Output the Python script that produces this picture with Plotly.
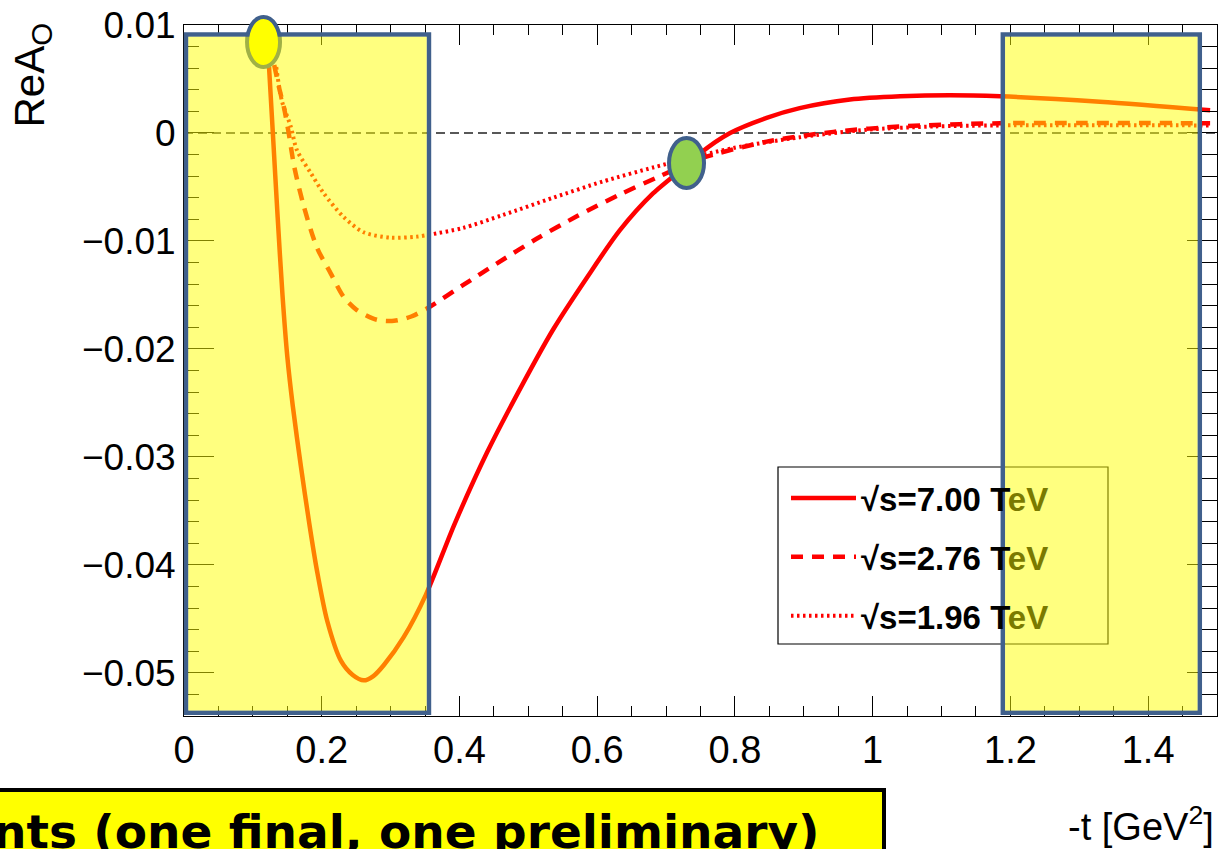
import plotly.graph_objects as go

# ---------------- data ----------------
t_7tev = [0.1235, 0.129, 0.136, 0.143, 0.150, 0.158, 0.170, 0.182, 0.193, 0.208, 0.228,
          0.245, 0.261, 0.275, 0.290, 0.319, 0.351, 0.393, 0.440, 0.488, 0.536, 0.585,
          0.633, 0.681, 0.730, 0.749, 0.793, 0.846, 0.894, 0.967, 1.040, 1.112, 1.185,
          1.330, 1.490]
re_7tev = [0.0061, 0.0000, -0.0078, -0.0150, -0.0207, -0.0253, -0.0310, -0.0362, -0.0405,
           -0.0452, -0.0489, -0.0502, -0.0507, -0.0503, -0.0493, -0.0467, -0.0428, -0.0362,
           -0.0296, -0.0237, -0.0182, -0.0134, -0.0090, -0.0056, -0.0030, -0.0019, 0.0000,
           0.0014, 0.0023, 0.0031, 0.0034, 0.0035, 0.0034, 0.0029, 0.0021]

t_276tev = [0.131, 0.138, 0.145, 0.152, 0.160, 0.174, 0.193, 0.213, 0.232, 0.251, 0.280,
            0.305, 0.330, 0.357, 0.405, 0.454, 0.512, 0.571, 0.633, 0.691, 0.749, 0.846,
            0.943, 1.040, 1.185, 1.490]
re_276tev = [0.0063, 0.0042, 0.0024, 0.0000, -0.0031, -0.0068, -0.0106, -0.0130, -0.0152,
             -0.0164, -0.0173, -0.0174, -0.0170, -0.0161, -0.0141, -0.0121, -0.0098, -0.0077,
             -0.0057, -0.0040, -0.0024, -0.0008, 0.0001, 0.0006, 0.0009, 0.0009]

t_196tev = [0.134, 0.142, 0.155, 0.164, 0.184, 0.203, 0.232, 0.261, 0.300, 0.338, 0.358,
            0.405, 0.463, 0.536, 0.608, 0.681, 0.730, 0.797, 0.894, 0.992, 1.088, 1.185, 1.490]
re_196tev = [0.0061, 0.0030, 0.0006, -0.0016, -0.0037, -0.0056, -0.0078, -0.0092, -0.0097,
             -0.0096, -0.0094, -0.0088, -0.0076, -0.0060, -0.0045, -0.0032, -0.0024, -0.0014,
             -0.0004, 0.0003, 0.0006, 0.0007, 0.0007]

series_names = ["√s=7.00 TeV", "√s=2.76 TeV", "√s=1.96 TeV"]

x_tickvals = [0, 0.2, 0.4, 0.6, 0.8, 1.0, 1.2, 1.4]
x_ticktext = ["0", "0.2", "0.4", "0.6", "0.8", "1", "1.2", "1.4"]
y_tickvals = [-0.05, -0.04, -0.03, -0.02, -0.01, 0, 0.01]
y_ticktext = ["\u22120.05", "\u22120.04", "\u22120.03", "\u22120.02", "\u22120.01", "0", "0.01"]

x_title = "-t [GeV<sup>2</sup>]"
y_title = "ReA<sub>O</sub>"
banner_text = "<b>nts (one final, one preliminary)</b>"

# highlight regions (data units)
left_band = (0.003, 0.3557)
right_band = (1.189, 1.475)
band_y = (-0.0537, 0.00912)
start_marker = (0.1155, 0.00843)   # center of the yellow oval
cross_marker = (0.7297, -0.00278)  # center of the green oval

# ---------------- layout geometry ----------------
PLOT_L, PLOT_T, PLOT_R, PLOT_B = 184, 25, 1217, 716   # plot frame in window pixels
W, H = 1221, 849
ML, MT = PLOT_L, PLOT_T
PW, PH = PLOT_R - PLOT_L, PLOT_B - PLOT_T
MR, MB = W - ML - PW, H - MT - PH
X_RANGE = [0, 1.5]
Y_RANGE = [-0.054, 0.01]


def xp(x):
    return (x - X_RANGE[0]) / (X_RANGE[1] - X_RANGE[0])


def yp(y):
    return (y - Y_RANGE[0]) / (Y_RANGE[1] - Y_RANGE[0])


def pgx(px):  # window pixel -> paper
    return (px - PLOT_L) / PW


def pgy(py):
    return (PLOT_B - py) / PH


def legend_label(name):
    # the part of the label lying under the translucent yellow band looks olive
    return name.replace("eV", "<span style='color:#7a7a00'>eV</span>")


FONT = "Liberation Sans, Arial, sans-serif"
BLUE = "#40608C"
RED = "#FF0000"

fig = go.Figure()
fig.add_trace(go.Scatter(x=t_7tev, y=re_7tev, mode="lines", name=legend_label(series_names[0]),
                         legendgroup="a",
                         line=dict(color=RED, width=4.5, shape="spline", smoothing=0.8)))
fig.add_trace(go.Scatter(x=t_276tev, y=re_276tev, mode="lines",
                         name=legend_label(series_names[1]), legendgroup="b",
                         line=dict(color=RED, width=4.5, dash="12px,9px", shape="spline",
                                   smoothing=0.8)))
fig.add_trace(go.Scatter(x=t_196tev, y=re_196tev, mode="lines",
                         name=legend_label(series_names[2]), legendgroup="c",
                         line=dict(color=RED, width=4, dash="2.5px,3.5px", shape="spline",
                                   smoothing=0.8)))

shapes = []
# zero line
shapes.append(dict(type="line", xref="paper", yref="y", x0=0, x1=1, y0=0, y1=0,
                   line=dict(color="#222222", width=1.5, dash="9px,5px"), layer="below"))
# legend frame
lg_x0, lg_x1 = pgx(778), pgx(1108)
lg_y0, lg_y1 = pgy(644), pgy(467)
shapes.append(dict(type="rect", xref="paper", yref="paper", x0=lg_x0, x1=lg_x1, y0=lg_y0,
                   y1=lg_y1, line=dict(color="black", width=1.2), fillcolor="rgba(0,0,0,0)"))
# band borders
for bx0, bx1 in (left_band, right_band):
    shapes.append(dict(type="rect", xref="paper", yref="paper", x0=xp(bx0), x1=xp(bx1),
                       y0=yp(band_y[0]), y1=yp(band_y[1]),
                       line=dict(color=BLUE, width=4.5), fillcolor="rgba(0,0,0,0)"))
# yellow oval (start point)
ew, eh = 33 / PW, 50 / PH
shapes.append(dict(type="circle", xref="paper", yref="paper",
                   x0=xp(start_marker[0]) - ew / 2, x1=xp(start_marker[0]) + ew / 2,
                   y0=yp(start_marker[1]) - eh / 2, y1=yp(start_marker[1]) + eh / 2,
                   fillcolor="#FFFF00", line=dict(color=BLUE, width=4)))
# translucent yellow fill of bands
ix, iy = 2.3 / PW, 2.3 / PH
for bx0, bx1 in (left_band, right_band):
    shapes.append(dict(type="rect", xref="paper", yref="paper", x0=xp(bx0) + ix,
                       x1=xp(bx1) - ix, y0=yp(band_y[0]) + iy, y1=yp(band_y[1]) - iy,
                       line=dict(width=0), fillcolor="rgba(255,255,0,0.5)"))
# green oval (crossing point)
gw, gh = 35 / PW, 50 / PH
shapes.append(dict(type="circle", xref="paper", yref="paper",
                   x0=xp(cross_marker[0]) - gw / 2, x1=xp(cross_marker[0]) + gw / 2,
                   y0=yp(cross_marker[1]) - gh / 2, y1=yp(cross_marker[1]) + gh / 2,
                   fillcolor="#92D050", line=dict(color=BLUE, width=4)))
# bottom banner box
shapes.append(dict(type="rect", xref="paper", yref="paper", x0=pgx(-20), x1=pgx(884),
                   y0=pgy(880), y1=pgy(790),
                   fillcolor="#FFFF00", line=dict(color="black", width=4)))

annotations = [
    dict(text=y_title, xref="paper", yref="paper", x=pgx(32), y=pgy(21),
         xanchor="center", yanchor="top", textangle=-90, showarrow=False,
         font=dict(family=FONT, size=42, color="black")),
    dict(text=x_title, xref="paper", yref="paper", x=pgx(1216), y=pgy(824),
         xanchor="right", yanchor="middle", showarrow=False,
         font=dict(family=FONT, size=38, color="black")),
    dict(text=banner_text, xref="paper", yref="paper", x=pgx(822),
         y=pgy(831), xanchor="right", yanchor="middle", showarrow=False,
         font=dict(family="DejaVu Sans, Verdana, sans-serif", size=47, color="black")),
]

fig.update_layout(
    width=W, height=H,
    margin=dict(l=ML, r=MR, t=MT, b=MB, autoexpand=False),
    paper_bgcolor="white", plot_bgcolor="white",
    showlegend=True,
    legend=dict(x=pgx(786), y=pgy(470), xanchor="left", yanchor="top",
                bgcolor="rgba(0,0,0,0)", borderwidth=0, tracegroupgap=13,
                itemwidth=65,
                font=dict(family=FONT, size=33, color="black", weight="bold")),
    shapes=shapes,
    annotations=annotations,
    xaxis=dict(range=X_RANGE, tickmode="array", tickvals=x_tickvals, ticktext=x_ticktext,
               ticks="inside", ticklen=20, tickwidth=1, tickcolor="black",
               showline=True, linecolor="black", linewidth=1, mirror="allticks",
               showgrid=False, zeroline=False, automargin=False,
               ticklabeloverflow="allow",
               tickfont=dict(family=FONT, size=38, color="black"),
               minor=dict(dtick=0.05, tick0=0, ticks="inside", ticklen=10,
                          tickcolor="black", tickwidth=1, showgrid=False)),
    yaxis=dict(range=Y_RANGE, tickmode="array", tickvals=y_tickvals, ticktext=y_ticktext,
               ticks="inside", ticklen=30, tickwidth=1, tickcolor="black",
               showline=True, linecolor="black", linewidth=1, mirror="allticks",
               showgrid=False, zeroline=False, automargin=False,
               ticklabeloverflow="allow",
               tickfont=dict(family=FONT, size=37, color="black"),
               minor=dict(dtick=0.002, tick0=0, ticks="inside", ticklen=15,
                          tickcolor="black", tickwidth=1, showgrid=False)),
)

# remove the default 8px page margin so the figure fills the window exactly
fig.write_html("out.html",
               config={"displayModeBar": False},
               post_script="document.body.style.margin='0';"
                           "document.body.style.overflow='hidden';")
